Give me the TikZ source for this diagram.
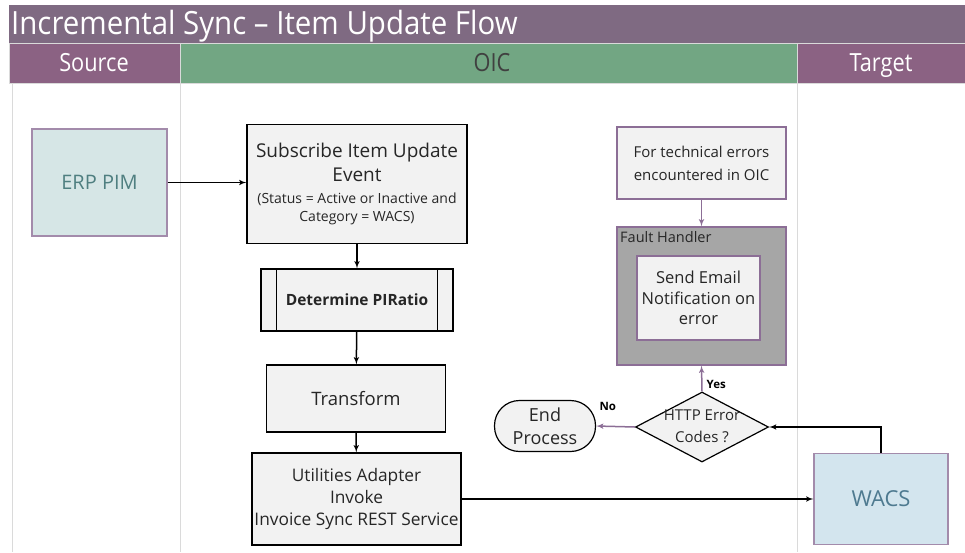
\documentclass[tikz,border=0pt]{standalone}
\usepackage{fontspec}
\setmainfont{Open Sans}
\newfontfamily\condfont[FakeStretch=0.87]{Open Sans}
\newfontfamily\titlefont[FakeStretch=0.92]{Open Sans}
\usetikzlibrary{arrows,shapes.geometric}
\definecolor{titlebar}{HTML}{7F6A82}
\definecolor{lanehead}{HTML}{8B6283}
\definecolor{oicgreen}{HTML}{72A683}
\definecolor{boxgray}{HTML}{F2F2F2}
\definecolor{faultgray}{HTML}{A6A6A6}
\definecolor{lilac}{HTML}{8C6E96}
\definecolor{erpfill}{HTML}{D6E6E6}
\definecolor{wacsfill}{HTML}{D3E5EE}
\definecolor{laneline}{HTML}{DADADA}
\begin{document}
\begin{tikzpicture}[x=1pt, y=-1pt]

\tikzset{step box/.style = {shape=rectangle, draw=black, line width=1.2pt, fill=boxgray, align=center, inner sep=2pt, text=black!85}}
\tikzset{sys box/.style = {shape=rectangle, draw=lilac!80, line width=1.2pt, align=center, font=\fontsize{20}{24}\selectfont}}
\tikzset{lane title/.style = {anchor=base, font=\condfont\fontsize{25}{28}\selectfont}}
\tikzset{edge/.style = {->, > = latex', line width=1.5pt}}
\tikzset{redge/.style = {->, > = latex', line width=1.5pt, draw=lilac}}
\useasboundingbox (0,0) rectangle (965,552);
% swimlanes
\fill[titlebar] (9,5) rectangle (965,43);
\node[anchor=base west, inner sep=1pt, text=white, font=\titlefont\fontsize{32}{34}\selectfont] (title) at (10,34) {Incremental Sync – Item Update Flow};
\draw[laneline, fill=lanehead] (9,43) rectangle (180,83);
\draw[laneline, fill=oicgreen] (180,43) rectangle (797,83);
\draw[laneline, fill=lanehead] (797,43) rectangle (965,83);
\node[lane title, text=white] (src) at (94,71) {Source};
\node[lane title, text=black!75] (oic) at (492,71) {OIC};
\node[lane title, text=white] (tgt) at (881,71) {Target};
\draw[laneline] (12,83) -- (12,552) (180,83) -- (180,552) (797,83) -- (797,552);
% vertices
\node[sys box, fill=erpfill, text={rgb,255:red,79;green,127;blue,128}, minimum width=135, minimum height=107] (erp) at (99.5,182.5) {ERP PIM};
\node[step box, minimum width=220, minimum height=119, font=\fontsize{19}{22}\selectfont] (sub) at (357,184) {Subscribe Item Update\\[2pt]Event\\{\fontsize{14}{17}\selectfont (Status = Active or Inactive and}\\[-4pt]{\fontsize{14}{17}\selectfont Category = WACS)}};
\node[step box, minimum width=192, minimum height=62, font=\bfseries\fontsize{15.5}{20}\selectfont] (pir) at (357,300) {Determine PIRatio};
\draw[line width=1.2pt] ([xshift=16]pir.north west) -- ([xshift=16]pir.south west);
\draw[line width=1.2pt] ([xshift=-16]pir.north east) -- ([xshift=-16]pir.south east);
\node[step box, minimum width=179, minimum height=67, font=\fontsize{18.5}{22}\selectfont] (tr) at (356,398.5) {Transform};
\node[step box, minimum width=209, minimum height=92, font=\fontsize{17.3}{22}\selectfont] (util) at (356.5,499) {Utilities Adapter\\Invoke\\Invoice Sync REST Service};
\node[step box, draw=lilac, minimum width=169, minimum height=72, font=\fontsize{15}{23}\selectfont] (tech) at (701.5,163) {For technical errors\\encountered in OIC};
\node[step box, draw=lilac, fill=faultgray, minimum width=169, minimum height=138] (fault) at (701.5,296) {};
\node[anchor=north west, inner sep=0pt, text=black!85, font=\fontsize{14.5}{16}\selectfont] (fhlbl) at (620,231) {Fault Handler};
\node[step box, draw=lilac, minimum width=123, minimum height=84, font=\fontsize{16.5}{20.5}\selectfont] (mail) at (698.5,298) {Send Email\\Notification on\\error};
\node[step box, shape=diamond, minimum width=133, minimum height=70, inner sep=0pt] (dia) at (702,427) {};
\node[align=center, inner sep=0pt, text=black!85, font=\fontsize{15}{22}\selectfont] (dialbl) at (702,426) {HTTP Error\\Codes ?};
\node[step box, rounded corners=25, minimum width=101, minimum height=51, font=\fontsize{18}{23}\selectfont] (endp) at (545,426) {End\\Process};
\node[sys box, fill=wacsfill, text={rgb,255:red,78;green,122;blue,144}, minimum width=134, minimum height=91, font=\fontsize{22}{26}\selectfont] (wacs) at (881,499) {WACS};
%edges
\begin{scope}[every node/.style={inner sep=1pt, font=\bfseries\fontsize{11.5}{13}\selectfont}]
       \draw[edge] (erp.east) -- (sub.west |- erp.east);
       \draw[edge] (sub) -- (pir);
       \draw[edge] (pir) -- (tr);
       \draw[edge] (tr) -- (util);
       \draw[edge] (util) -- (wacs);
       \draw[edge] (wacs.north) |- (dia.east);
       \draw[redge] (tech) -- (fault);
       \draw[redge] (dia.north) -- node [anchor=south west, pos=0.05, xshift=3] {Yes} (fault.south);
       \draw[redge] (dia.west) -- node [anchor=south, pos=0.7, yshift=14] {No} (endp.east);
\end{scope}

\end{tikzpicture}
\end{document}
